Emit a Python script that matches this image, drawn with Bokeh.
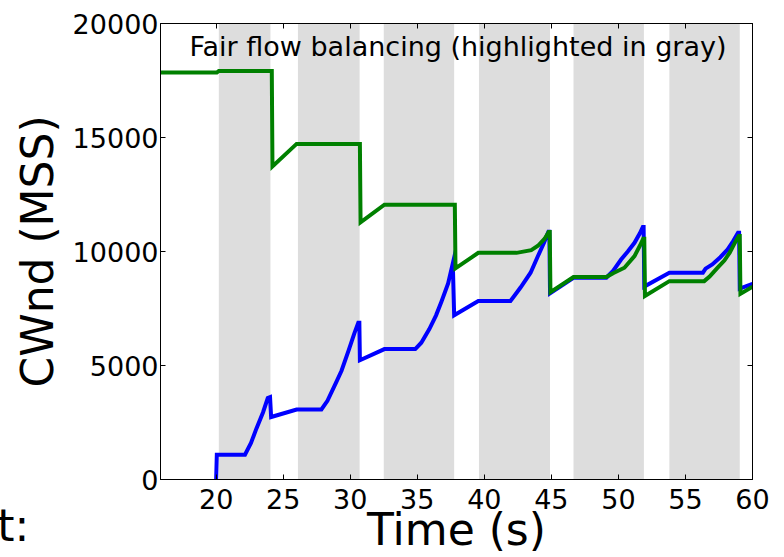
import math
from bokeh.plotting import figure
from bokeh.models import Range1d, LinearAxis, FixedTicker, BoxAnnotation, Label
from bokeh.embed import file_html
from bokeh.resources import INLINE

# ---- data ----
blue_t = [20.0, 20.05, 22.15, 22.6, 23.0, 23.5, 23.85, 24.02, 24.1,
          26.0, 27.85, 28.3, 28.95, 29.35, 29.9, 30.3, 30.6, 30.68, 30.72,
          32.55, 34.85, 35.3, 35.9, 36.4, 36.8, 37.3, 37.65, 37.75,
          39.55, 41.95, 42.3, 42.7, 43.45, 44.0, 44.45, 44.78, 44.85, 44.9,
          46.65, 49.1, 49.6, 50.2, 50.7, 51.2, 51.6, 51.82, 51.88, 51.93,
          53.8, 56.3, 56.5, 57.0, 57.6, 58.15, 58.55, 58.92, 59.0, 59.05,
          60.0]
blue_v = [0, 1090, 1090, 1600, 2230, 2950, 3570, 3610, 2740,
          3070, 3070, 3450, 4260, 4770, 5700, 6400, 6880, 6880, 5230,
          5720, 5720, 6000, 6600, 7200, 7800, 8600, 9480, 7200,
          7830, 7830, 8100, 8420, 9070, 9800, 10380, 10870, 10870, 8170,
          8850, 8850, 9150, 9650, 10000, 10380, 10800, 11080, 11080, 8460,
          9070, 9070, 9250, 9430, 9750, 10090, 10450, 10820, 10820, 8370,
          8580]

green_t = [15.0, 20.05, 20.2, 24.15, 24.2, 26.0, 30.72, 30.77, 32.55,
           37.8, 37.85, 39.55, 42.4, 43.5, 44.0, 44.5, 44.8, 44.88, 44.93,
           46.65, 49.1, 49.6, 50.45, 51.2, 51.6, 51.85, 51.93, 51.98,
           53.8, 56.4, 56.8, 57.4, 57.9, 58.3, 58.7, 58.98, 59.05, 59.1,
           60.0]
green_v = [17850, 17850, 17920, 17920, 13730, 14720, 14720, 11280, 12050,
           12050, 9260, 9940, 9940, 10060, 10250, 10560, 10860, 10860, 8220,
           8880, 8880, 9050, 9290, 9800, 10250, 10560, 10560, 8050,
           8700, 8700, 8900, 9290, 9600, 9950, 10400, 10680, 10680, 8140,
           8450]

band_start = [20.2, 26.1, 32.5, 39.6, 46.65, 53.8]
band_end = [24.05, 30.7, 37.75, 44.9, 51.9, 59.05]

x_ticks = [20, 25, 30, 35, 40, 45, 50, 55, 60]
y_ticks = [0, 5000, 10000, 15000, 20000]

title_text = "Fair flow balancing (highlighted in gray)"
x_label = "Time (s)"
y_label = "CWnd (MSS)"
stray_text = "t:"

FONT = "DejaVu Sans"

p = figure(width=784, height=557, output_backend="svg", toolbar_location=None,
           x_range=Range1d(15.85, 60), y_range=Range1d(0, 20000),
           min_border_left=160, min_border_right=29, min_border_top=23, min_border_bottom=76)
p.background_fill_color = "white"
p.border_fill_color = "white"
p.outline_line_color = "black"
p.outline_line_width = 1
p.grid.visible = False

for s, e in zip(band_start, band_end):
    p.add_layout(BoxAnnotation(left=s, right=e, fill_color="#dddddd", fill_alpha=1.0,
                               line_color=None, level="underlay"))

p.line(blue_t, blue_v, line_color="#0000ff", line_width=4, line_join="miter")
p.line(green_t, green_v, line_color="#008000", line_width=4, line_join="miter")

xa = p.xaxis[0]
ya = p.yaxis[0]
xa.ticker = FixedTicker(ticks=x_ticks)
ya.ticker = FixedTicker(ticks=y_ticks)
for ax in (xa, ya):
    ax.major_tick_in = 5
    ax.major_tick_out = 0
    ax.minor_tick_line_color = None
    ax.major_label_text_font = FONT
    ax.major_label_text_font_size = "27px"
    ax.major_label_text_color = "black"
    ax.axis_label_text_font = FONT
    ax.axis_label_text_font_size = "44px"
    ax.axis_label_text_font_style = "normal"
    ax.axis_label_text_color = "black"
xa.major_label_standoff = 9
ya.major_label_standoff = 2
xa.axis_label = x_label
ya.axis_label = y_label
xa.axis_label_standoff = -8
ya.axis_label_standoff = 7

top = LinearAxis(ticker=FixedTicker(ticks=x_ticks))
right = LinearAxis(ticker=FixedTicker(ticks=y_ticks))
for ax in (top, right):
    ax.major_tick_in = 5
    ax.major_tick_out = 0
    ax.minor_tick_line_color = None
    ax.major_label_text_font_size = "0px"
    ax.major_label_text_color = None
    ax.major_label_standoff = 0
p.add_layout(top, "above")
p.add_layout(right, "right")

p.add_layout(Label(x=297.5, y=433, x_units="screen", y_units="screen", text=title_text,
                   text_font=FONT, text_font_size="27px", text_align="center",
                   text_baseline="alphabetic", text_color="black"))
# stray text outside the frame (placed in a side panel so it is not clipped)
p.add_layout(Label(x=3.68, y=-2000, text=stray_text,
                   text_font=FONT, text_font_size="44px", text_align="left",
                   text_baseline="alphabetic", text_color="black"), "right")

open("out.html", "w").write(file_html(p, INLINE))
